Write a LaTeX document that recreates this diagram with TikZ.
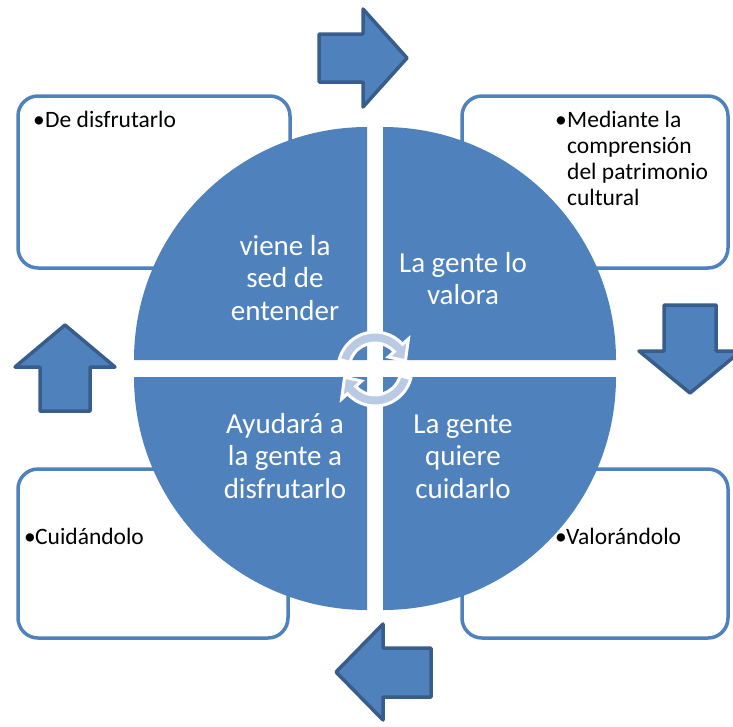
\documentclass[tikz,border=0pt]{standalone}
\usepackage{fontspec}
\setmainfont{Carlito}
\usetikzlibrary{calc}
\definecolor{accent}{HTML}{4F81BD}
\definecolor{accentdark}{HTML}{385D8A}
\definecolor{cyclefill}{HTML}{BACAE4}
\newcommand{\mylines}[1]{\begin{tabular}[t]{@{}c@{}}#1\end{tabular}}
\newcommand{\myleftlines}[1]{\begin{tabular}[t]{@{}l@{}}#1\end{tabular}}
\tikzset{
  infobox/.style={draw=accent, line width=3.5pt, fill=white, rounded corners=20pt},
  blockarrow/.style={fill=accent, draw=accentdark, line width=3.5pt, line join=round},
  quadrant/.style={fill=accent},
  quadtext/.style={text=white, font=\fontsize{29}{32.5}\selectfont, inner sep=0pt, anchor=base},
  boxtext/.style={text=black, font=\fontsize{23.5}{26}\selectfont, inner sep=0pt, anchor=base west},
  circarrow/.style={fill=cyclefill, draw=white, line width=3pt, line join=miter}
}
\begin{document}
\begin{tikzpicture}[x=1pt, y=-1pt]
\useasboundingbox (0,0) rectangle (733,726);
% boxes
\draw[infobox] (18,96) rectangle (290,268);
\draw[infobox] (462,96) rectangle (728,268);
\draw[infobox] (18,469) rectangle (288,638);
\draw[infobox] (462,469) rectangle (728,638);
% box texts
\node[boxtext] (b1) at (33,127) {•};
\node[boxtext] (t1) at (45,127) {De disfrutarlo};
\node[boxtext] (b2) at (555,127) {•};
\node[boxtext] (t2) at (567,127) {\myleftlines{Mediante la\\comprensión\\del patrimonio\\cultural}};
\node[boxtext] (b3) at (24,544) {•};
\node[boxtext] (t3) at (35,544) {Cuidándolo};
\node[boxtext] (b4) at (555,544) {•};
\node[boxtext] (t4) at (566,544) {Valorándolo};
% block arrows
\draw[blockarrow] (319,34) -- (363,34) -- (363,9) -- (407,58) -- (363,107) -- (363,82) -- (319,82) -- cycle;
\draw[blockarrow] (664,305) -- (716,305) -- (716,351) -- (741,351) -- (690,393) -- (639,351) -- (664,351) -- cycle;
\draw[blockarrow] (40,411) -- (40,367) -- (15,367) -- (65,325) -- (115,367) -- (90,367) -- (90,411) -- cycle;
\draw[blockarrow] (431,648) -- (383,648) -- (383,624) -- (336,672) -- (383,720) -- (383,697) -- (431,697) -- cycle;
% quadrants
\fill[quadrant] (367,360) -- ++(-233,0) arc[start angle=180, end angle=270, radius=233] -- cycle;
\fill[quadrant] (383,360) -- ++(0,-233) arc[start angle=270, end angle=360, radius=233] -- cycle;
\fill[quadrant] (367,377) -- ++(-233,0) arc[start angle=180, end angle=90, radius=233] -- cycle;
\fill[quadrant] (383,377) -- ++(233,0) arc[start angle=0, end angle=90, radius=233] -- cycle;
% quadrant texts
\node[quadtext] (q1) at (285,255) {\mylines{viene la\\sed de\\entender}};
\node[quadtext] (q2) at (463,272) {\mylines{La gente lo\\valora}};
\node[quadtext] (q3) at (285,433) {\mylines{Ayudará a\\la gente a\\disfrutarlo}};
\node[quadtext] (q4) at (463,433) {\mylines{La gente\\quiere\\cuidarlo}};
% circular arrows
\coordinate (c) at (375,369);
\draw[circarrow] ($(c)+(195:37)$) arc[start angle=195, end angle=318, radius=37]
  -- ($(c)+(318:45)$) -- ($(c)+(345:31.5)$) -- ($(c)+(318:18)$) -- ($(c)+(318:26)$)
  arc[start angle=318, end angle=195, radius=26] -- cycle;
\draw[circarrow] ($(c)+(15:37)$) arc[start angle=15, end angle=138, radius=37]
  -- ($(c)+(138:45)$) -- ($(c)+(165:31.5)$) -- ($(c)+(138:18)$) -- ($(c)+(138:26)$)
  arc[start angle=138, end angle=15, radius=26] -- cycle;
\end{tikzpicture}
\end{document}
